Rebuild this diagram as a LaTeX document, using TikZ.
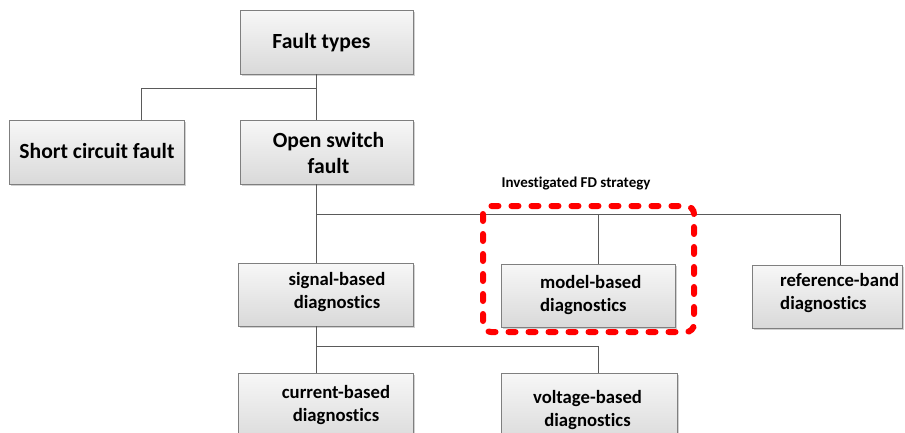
\documentclass[tikz,border=0pt]{standalone}
\usepackage{fontspec}
\setmainfont{Carlito}[Ligatures=NoCommon]
\usetikzlibrary{shadows}
\definecolor{boxtop}{HTML}{F7F7F7}
\definecolor{boxbot}{HTML}{D9D9D9}
\definecolor{boxline}{HTML}{7F7F7F}
\definecolor{conn}{HTML}{5A5A5A}
\definecolor{fdred}{HTML}{FF0000}
\tikzset{
  x=1pt, y=-1pt,
  fbox/.style={draw=boxline, line width=0.9pt, top color=boxtop, bottom color=boxbot,
    inner sep=0pt, drop shadow={shadow xshift=2pt, shadow yshift=-2pt, fill=black, opacity=0.18}},
  big/.style={font=\fontsize{21.6}{26}\selectfont\bfseries, inner sep=0pt, align=center},
  small/.style={font=\fontsize{18.7}{23}\selectfont\bfseries, inner sep=0pt},
  tag/.style={font=\fontsize{15}{18}\selectfont\bfseries, inner sep=0pt},
  link/.style={draw=conn, line width=0.9pt},
  fdframe/.style={draw=fdred, line width=6pt, line cap=round, dash pattern=on 7pt off 13pt, rounded corners=8pt}
}
\begin{document}
\begin{tikzpicture}
\useasboundingbox (0,0) rectangle (905,432);
\clip (0,0) rectangle (905,432);
% junction coordinates
\coordinate (j1) at (316,88);
\coordinate (j1s) at (141,88);
\coordinate (j2) at (316,214);
\coordinate (j2m) at (598,214);
\coordinate (j2r) at (840,214);
\coordinate (j3) at (316,346);
\coordinate (j3v) at (598,346);
% boxes
\node[fbox, minimum width=173pt, minimum height=64pt] (ft) at (326.5,42) {};
\node[fbox, minimum width=175pt, minimum height=64pt] (sc) at (96.5,152) {};
\node[fbox, minimum width=173pt, minimum height=64pt] (os) at (326.5,152) {};
\node[fbox, minimum width=175pt, minimum height=63pt] (sb) at (325.5,294.5) {};
\node[fbox, minimum width=174pt, minimum height=63pt] (mb) at (588,295.5) {};
\node[fbox, minimum width=150pt, minimum height=63pt] (rb) at (827,296.5) {};
\node[fbox, minimum width=175pt, minimum height=72pt] (cb) at (325.5,409) {};
\node[fbox, minimum width=176pt, minimum height=72pt] (vb) at (589,409) {};
% connectors
\draw[link] (ft.south -| j1) -- (os.north -| j1);
\draw[link] (j1) -- (j1s) -- (sc.north -| j1s);
\draw[link] (os.south -| j2) -- (sb.north -| j2);
\draw[link] (j2) -- (j2r) -- (rb.north -| j2r);
\draw[link] (j2m) -- (mb.north -| j2m);
\draw[link] (sb.south -| j3) -- (cb.north -| j3);
\draw[link] (j3) -- (j3v) -- (vb.north -| j3v);
% texts (base anchor = baseline of the last line)
\node[big, anchor=base] (ftt) at (321.5,48) {Fault types};
\node[big, anchor=base] (sct) at (97,158) {Short circuit fault};
\node[big, anchor=base] (ost) at (328.5,173) {Open switch\\fault};
\node[small, align=center, anchor=base] (sbt) at (337,308) {signal-based\\diagnostics};
\node[small, align=left, anchor=base west] (mbt) at (540,311) {model-based\\diagnostics};
\node[small, align=left, anchor=base west] (rbt) at (780,309) {reference-band\\diagnostics};
\node[small, align=center, anchor=base] (cbt) at (336,421) {current-based\\diagnostics};
\node[small, align=center, anchor=base] (vbt) at (587.5,426) {voltage-based\\diagnostics};
% investigated strategy frame
\node[tag, anchor=base] (fdl) at (576,187) {Investigated FD strategy};
\coordinate (fa) at (483,206);
\coordinate (fb) at (694,332);
\draw[fdframe] (fa) rectangle (fb);
\end{tikzpicture}
\end{document}
